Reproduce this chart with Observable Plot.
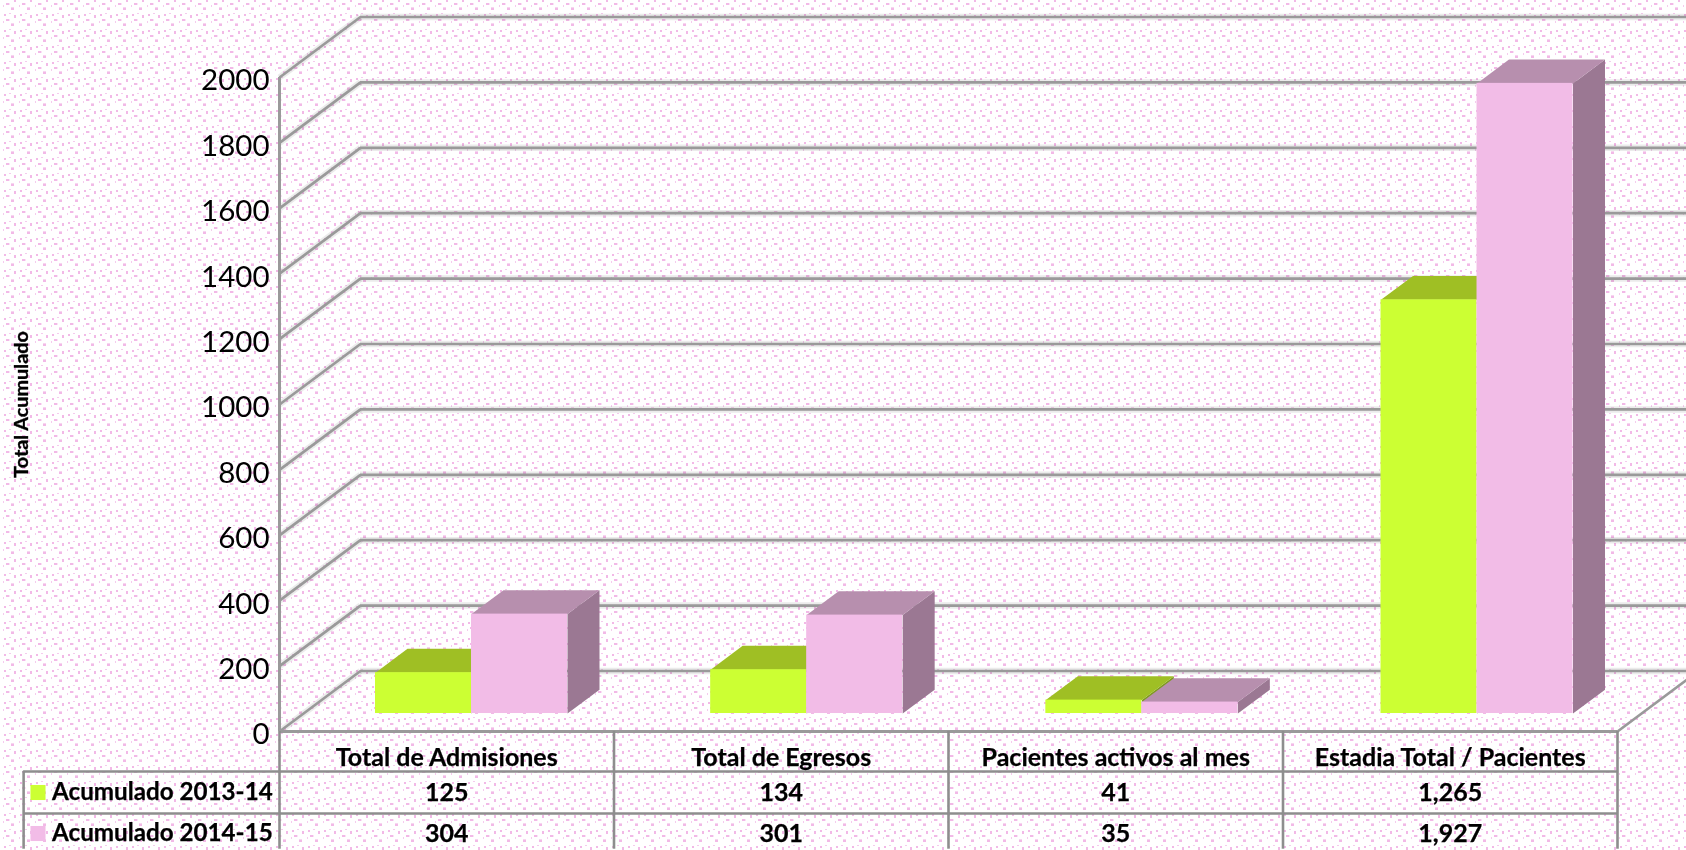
<!DOCTYPE html>
<html lang="es">
<head>
<meta charset="utf-8">
<title>Total Acumulado</title>
<style>
html,body{margin:0;padding:0;width:1686px;height:850px;overflow:hidden;background-color:#fff;}
body{background-image:url("data:image/svg+xml;utf8,<svg xmlns='http://www.w3.org/2000/svg' width='16' height='16'><g fill='%23f2b9e7'><rect x='6' y='3' width='3.4' height='2'/><rect x='14' y='0' width='2' height='2'/><rect x='14' y='15' width='2' height='1'/><rect x='11' y='7.4' width='3' height='2.6'/><rect x='4' y='14' width='2' height='2'/></g><g fill='%23f5cbee'><rect x='3' y='5' width='1' height='2'/><rect x='9' y='13' width='2' height='1'/></g></svg>");background-size:16px 16px;}
svg{display:block;background:transparent!important;filter:blur(.35px);}
</style>
<script src="https://cdn.jsdelivr.net/npm/d3@7"></script>
<script src="https://cdn.jsdelivr.net/npm/@observablehq/plot@0.6"></script>
</head>
<body>
<div id="chart"></div>
<script>
const categories = ["Total de Admisiones", "Total de Egresos", "Pacientes activos al mes", "Estadia Total / Pacientes"];
const serie2013 = [125, 134, 41, 1265];
const serie2014 = [304, 301, 35, 1927];
const label2013 = "Acumulado 2013-14";
const label2014 = "Acumulado 2014-15";
const yTicks = [0, 200, 400, 600, 800, 1000, 1200, 1400, 1600, 1800, 2000];
const axisTitle = "Total Acumulado";
const tableText2013 = ["125", "134", "41", "1,265"];
const tableText2014 = ["304", "301", "35", "1,927"];

// 3D projection, in data units of the two scales
const wallDx = 81 / 334.5, wallDy = 185;
const barDx = 32 / 334.5, barDy = 73;
const barBase = 55, barStart = 0.287, barWidth = 0.287, barStep = 1.002;
const rightEnd = 4.3;
const grey = "#9a9a9a";

const series = [
  {values: serie2013, front: "#ccff33", top: "#9fbf24", side: "#7f9a20", offset: 0},
  {values: serie2014, front: "#f2bce7", top: "#b78fae", side: "#9b7893", offset: 1}
];

const barMarks = series.flatMap(s => {
  const bars = s.values.map((v, i) => {
    const x1 = i * barStep + barStart + s.offset * barWidth, x2 = x1 + barWidth, y = barBase + v;
    return {i, x1, x2, y};
  });
  const top = bars.flatMap(b => [[b.x1, b.y], [b.x2, b.y], [b.x2 + barDx, b.y + barDy], [b.x1 + barDx, b.y + barDy]].map(p => ({id: b.i, x: p[0], y: p[1]})));
  const side = bars.flatMap(b => [[b.x2, barBase], [b.x2 + barDx, barBase + barDy], [b.x2 + barDx, b.y + barDy], [b.x2, b.y]].map(p => ({id: b.i, x: p[0], y: p[1]})));
  return [
    Plot.line(side, {x: "x", y: "y", z: "id", fill: s.side, stroke: "none", curve: "linear-closed"}),
    Plot.line(top, {x: "x", y: "y", z: "id", fill: s.top, stroke: "none", curve: "linear-closed"}),
    Plot.rect(bars, {x1: "x1", x2: "x2", y1: () => barBase, y2: "y", fill: s.front})
  ];
});

const wallRule = (opts) => [
  Plot.ruleY(yTicks, {y: d => d + wallDy, x1: () => wallDx, x2: () => rightEnd, ...opts}),
  Plot.link(yTicks, {x1: () => 0, y1: d => d, x2: () => wallDx, y2: d => d + wallDy, ...opts})
];

const font = {fontFamily: "Lato, 'Open Sans', sans-serif", fill: "#000"};
const boldCell = {...font, fontWeight: 700, fontSize: 25, textAnchor: "middle", stroke: "#000", strokeWidth: 0.25};
const tableOffsets = {header: 26, row1: 61, row2: 102};
const tableLine = {stroke: "#8e8e8e", strokeWidth: 2.6};
const bottomY = 119;

const marks = [
  ...wallRule({stroke: "#000", strokeOpacity: 0.08, strokeWidth: 6.5}),
  ...wallRule({stroke: grey, strokeWidth: 2.7}),
  Plot.ruleX([0], {y1: () => 0, y2: () => 2000, stroke: grey, strokeWidth: 3}),
  Plot.ruleY([0], {x1: () => 0, x2: () => 4, stroke: grey, strokeWidth: 3}),
  Plot.link([4], {x1: d => d, y1: () => 0, x2: d => d + wallDx, y2: () => wallDy, stroke: grey, strokeWidth: 2.7}),
  ...barMarks,
  Plot.axisY({ticks: yTicks, tickSize: 0, tickPadding: 10, label: null, fontSize: 29.5, fontFamily: "Lato, sans-serif", fill: "#000", tickFormat: d => String(d), anchor: "left", dy: 3.5}),
  Plot.text([axisTitle], {x: () => -0.772, y: () => 1000, rotate: -90, text: d => d, ...font, fontWeight: 700, fontSize: 19.8, stroke: "#000", strokeWidth: 0.35}),
  // table grid
  Plot.ruleY([0], {x1: () => -0.765, x2: () => 4, dy: 40, ...tableLine}),
  Plot.ruleY([0], {x1: () => -0.765, x2: () => 4, dy: 82, ...tableLine}),
  Plot.ruleX([0, 1, 2, 3, 4], {y1: () => 0, y2: () => -360, ...tableLine}),
  Plot.ruleX([-0.765], {y1: () => -122, y2: () => -360, ...tableLine}),
  // table texts
  Plot.text(categories, {x: (d, i) => i + 0.5, y: () => 0, dy: tableOffsets.header, text: d => d, ...boldCell}),
  Plot.text(tableText2013, {x: (d, i) => i + 0.5, y: () => 0, dy: tableOffsets.row1, text: d => d, ...boldCell}),
  Plot.text(tableText2014, {x: (d, i) => i + 0.5, y: () => 0, dy: tableOffsets.row2, text: d => d, ...boldCell}),
  Plot.text([label2013], {x: () => -0.68, y: () => 0, dy: tableOffsets.row1, text: d => d, ...boldCell, textAnchor: "start", fontSize: 24.2}),
  Plot.text([label2014], {x: () => -0.68, y: () => 0, dy: tableOffsets.row2, text: d => d, ...boldCell, textAnchor: "start", fontSize: 24.2}),
  Plot.dot([0], {x: () => -0.722, y: () => 0, dy: tableOffsets.row1, symbol: "square", r: 8.5, fill: series[0].front, stroke: "none"}),
  Plot.dot([0], {x: () => -0.722, y: () => 0, dy: tableOffsets.row2, symbol: "square", r: 8.5, fill: series[1].front, stroke: "none"})
];

const chart = Plot.plot({
  width: 1686,
  height: 850,
  marginLeft: 279,
  marginRight: 69,
  marginTop: 77,
  marginBottom: bottomY,
  x: {domain: [0, 4], axis: null},
  y: {domain: [0, 2000], axis: null},
  style: {background: "transparent", overflow: "hidden"},
  marks
});
document.getElementById("chart").appendChild(chart);
</script>
</body>
</html>
